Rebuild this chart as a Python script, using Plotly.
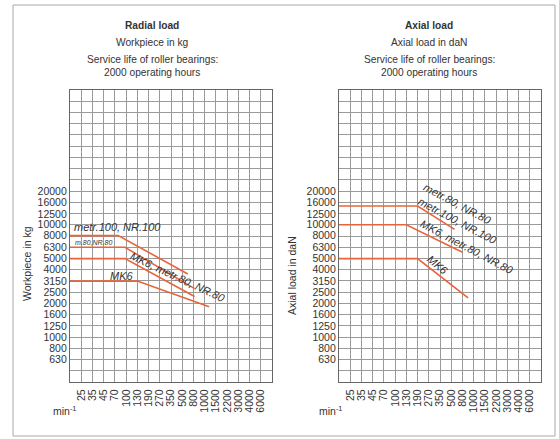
import numpy as np
import plotly.graph_objects as go

W, H = 559, 439

speeds = ['25', '35', '45', '70', '100', '130', '190', '270', '350', '500', '800',
          '1000', '1500', '2200', '3000', '4000', '6000']
loads = [630, 800, 1000, 1250, 1600, 2000, 2500, 3150, 4000, 5000, 6300, 8000,
         10000, 12500, 16000, 20000]

# x values are positions on the speed grid (1 = 25 rpm ... 17 = 6000 rpm, 0 = left edge)
radial_x = {
    'metr.100, NR.100': [0, 4.3, 10.5],
    'm.80, NR.80': [0, 4.9, 11.1],
    'MK6, metr.80, NR.80': [0, 4.9, 11.1],
    'MK6': [0, 6.0, 12.4],
}
radial_y = {
    'metr.100, NR.100': [8000, 8000, 3650],
    'm.80, NR.80': [6300, 6300, 2700],
    'MK6, metr.80, NR.80': [5000, 5000, 2300],
    'MK6': [3150, 3150, 1860],
}
axial_x = {
    'metr.80, NR.80': [0, 7.0, 10.3],
    'metr.100, NR.100': [0, 6.0, 11.0],
    'MK6': [0, 7.0, 11.5],
}
axial_y = {
    'metr.80, NR.80': [14700, 14700, 9100],
    'metr.100, NR.100': [10000, 10000, 5700],
    'MK6': [5000, 5000, 2230],
}

ORANGE = '#e8643a'
GRID = '#9a9a9a'
TXT = '#333333'
FONT = 'Liberation Sans, Arial, sans-serif'

fig = go.Figure()

for name in radial_x:
    fig.add_trace(go.Scatter(x=radial_x[name], y=radial_y[name], mode='lines',
                             line=dict(color=ORANGE, width=1.6), showlegend=False,
                             xaxis='x', yaxis='y'))
for name in axial_x:
    fig.add_trace(go.Scatter(x=axial_x[name], y=axial_y[name], mode='lines',
                             line=dict(color=ORANGE, width=1.6), showlegend=False,
                             xaxis='x2', yaxis='y2'))

# grid: one line per column, one per R10 step on the log scale
ygrid = [10 ** v for v in np.arange(2.6, 5.201, 0.1)]

def px(x):
    return x / W

def py(y):
    return 1 - y / H

xax = dict(range=[0, 18], tickvals=list(range(1, 18)), ticktext=speeds, tickangle=-90,
           showgrid=True, gridcolor=GRID, gridwidth=1, zeroline=False,
           showline=True, linecolor='#666666', linewidth=1.2, mirror=True,
           ticks='', ticklabelstandoff=2, tickfont=dict(size=10.5, color=TXT, family=FONT),
           fixedrange=True)
yax = dict(type='log', range=[2.6, 5.2], tickvals=loads, ticktext=[str(v) for v in loads],
           showgrid=False, zeroline=False,
           minor=dict(tickvals=ygrid, showgrid=True, gridcolor=GRID, gridwidth=1, ticks=''),
           showline=True, linecolor='#666666', linewidth=1.2, mirror=True,
           ticks='', tickfont=dict(size=10.5, color=TXT, family=FONT), fixedrange=True)

fig.update_layout(
    width=W, height=H,
    margin=dict(l=0, r=0, t=0, b=0),
    paper_bgcolor='white', plot_bgcolor='white',
    font=dict(family=FONT, color=TXT),
    xaxis=dict(xax, domain=[px(70), px(272)], anchor='y'),
    yaxis=dict(yax, domain=[py(382), py(90)], anchor='x'),
    xaxis2=dict(xax, domain=[px(339), px(541)], anchor='y2'),
    yaxis2=dict(yax, domain=[py(382), py(90)], anchor='x2'),
)

# outer frame
fig.add_shape(type='rect', xref='paper', yref='paper',
              x0=px(13), x1=px(555), y0=py(436), y1=py(5),
              line=dict(color='#a8a8a8', width=1))

def note(text, x, y, size=10, **kw):
    fig.add_annotation(text=text, x=px(x), y=py(y), xref='paper', yref='paper',
                       xanchor='center', yanchor='middle', showarrow=False,
                       font=dict(size=size, color=TXT, family=FONT), **kw)

for cx, head, sub in [(152, 'Radial load', 'Workpiece in kg'), (429, 'Axial load', 'Axial load in daN')]:
    note('<b>' + head + '</b>', cx, 25, 10.2)
    note(sub, cx, 42, 10.2)
    note('Service life of roller bearings:', cx, 60, 10.2)
    note('2000 operating hours', cx, 73, 10.2)

note('Workpiece in kg', 27, 264, 10.5, textangle=-90)
note('Axial load in daN', 292, 276, 10.5, textangle=-90)
note('min<sup>-1</sup>', 64, 410, 10.5)
note('min<sup>-1</sup>', 330, 410, 10.5)

def label(text, x, y, ax, size=11, angle=0, **kw):
    fig.add_annotation(text='<i>' + text + '</i>', x=x, y=y, xref=ax[0], yref=ax[1],
                       showarrow=False, textangle=angle,
                       font=dict(size=size, color=TXT, family=FONT), **kw)

L = ('x', 'y')
R = ('x2', 'y2')
label('metr.100, NR.100', 0.15, 3.98, L, xanchor='left')
label('m.80,NR.80', 0.25, 3.838, L, size=7, xanchor='left')
label('MK6, metr.80, NR.80', 9.6, 3.535, L, angle=25)
label('MK6', 4.65, 3.544, L)

label('metr.80, NR.80', 10.6, 4.185, R, angle=28)
label('metr.100, NR.100', 10.6, 4.034, R, angle=28)
label('MK6, metr.80, NR.80', 11.4, 3.80, R, angle=28)
label('MK6', 8.8, 3.642, R, angle=40)

# page body has a default margin; drop it so the figure fills the window
fig.write_html('out.html', config={'displayModeBar': False},
               post_script="document.body.style.margin='0';")
